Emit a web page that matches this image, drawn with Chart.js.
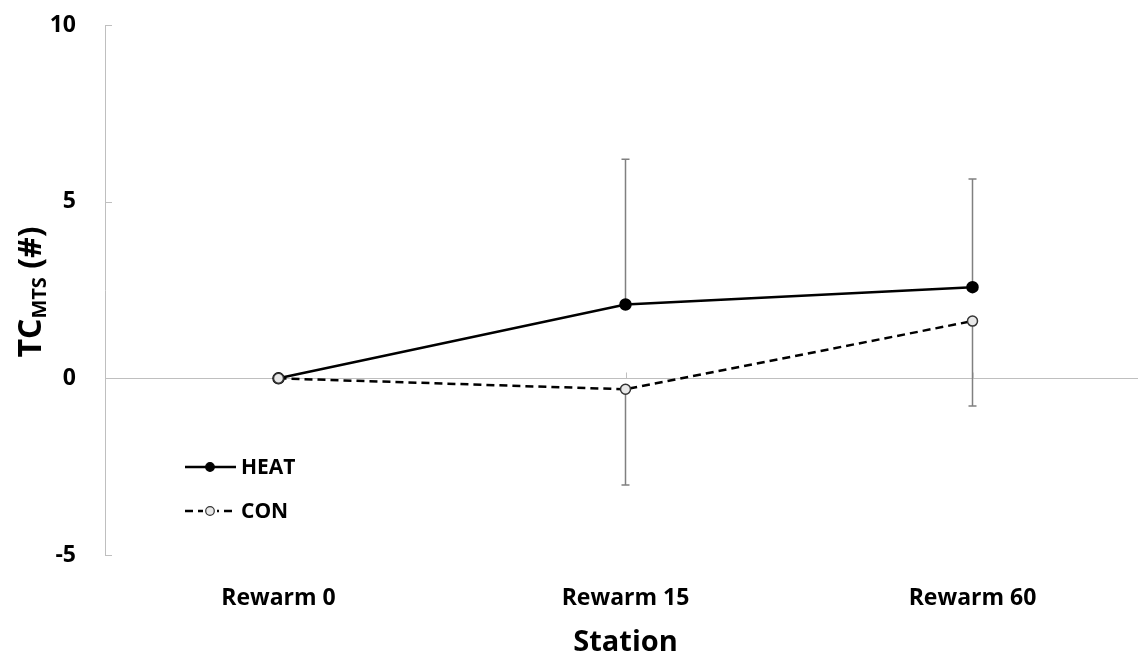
<!DOCTYPE html>
<html>
<head>
<meta charset="utf-8">
<title>TC MTS by station</title>
<script src="https://cdn.jsdelivr.net/npm/chart.js@4"></script>
<style>
    html, body { margin: 0; padding: 0; background: #fff; overflow: hidden; }
    #wrap { width: 1146px; height: 660px; }
</style>
</head>
<body>
<div id="wrap"><canvas id="chart"></canvas></div>
<script>
// ================================
// Data
// ================================
const stations = ['Rewarm 0', 'Rewarm 15', 'Rewarm 60'];
const heatValues = [0, 2.09, 2.58];
const heatErrUp = [0, 4.11, 3.06];
const conValues = [0, -0.31, 1.62];
const conErrDown = [0, 2.71, 2.40];
const yTicks = [-5, 0, 5, 10];

const FONT = '"Open Sans", sans-serif';

// Error bars (HEAT upward, CON downward)
const errorBars = {
    id: 'errorBars',
    beforeDatasetsDraw(chart) {
        const ctx = chart.ctx;
        const x = chart.scales.x, y = chart.scales.y;
        ctx.save();
        ctx.strokeStyle = '#808080';
        ctx.lineWidth = 1.5;
        const bars = [
            { vals: heatValues, err: heatErrUp, dir: 1 },
            { vals: conValues, err: conErrDown, dir: -1 }
        ];
        bars.forEach(b => {
            b.vals.forEach((v, i) => {
                if (!b.err[i]) return;
                const px = x.getPixelForValue(i);
                const y0 = y.getPixelForValue(v);
                const y1 = y.getPixelForValue(v + b.dir * b.err[i]);
                ctx.beginPath();
                ctx.moveTo(px, y0);
                ctx.lineTo(px, y1);
                ctx.moveTo(px - 4, y1);
                ctx.lineTo(px + 4, y1);
                ctx.stroke();
            });
        });
        ctx.restore();
    }
};

// Axis tick marks, y title with subscript, legend
const extras = {
    id: 'extras',
    beforeDatasetsDraw(chart) {
        const ctx = chart.ctx;
        const x = chart.scales.x, y = chart.scales.y;
        const left = chart.chartArea.left;
        ctx.save();
        ctx.strokeStyle = '#bfbfbf';
        ctx.lineWidth = 1;
        yTicks.forEach(t => {
            const py = Math.round(y.getPixelForValue(t)) + 0.5;
            ctx.beginPath();
            ctx.moveTo(left, py);
            ctx.lineTo(left + 7, py);
            ctx.stroke();
        });
        const zy = Math.round(y.getPixelForValue(0)) + 0.5;
        stations.forEach((s, i) => {
            const px = Math.round(x.getPixelForValue(i)) + 0.5;
            ctx.beginPath();
            ctx.moveTo(px, zy);
            ctx.lineTo(px, zy - 6);
            ctx.stroke();
        });
        ctx.restore();
    },
    afterDraw(chart) {
        const ctx = chart.ctx;
        ctx.save();
        // y axis title: TC_MTS (#)
        ctx.translate(41, 292);
        ctx.rotate(-Math.PI / 2);
        ctx.fillStyle = '#000';
        ctx.textBaseline = 'alphabetic';
        const big = 'bold 32px ' + FONT, small = 'bold 20px ' + FONT;
        ctx.font = big;
        const w1 = ctx.measureText('TC').width;
        const w3 = ctx.measureText(' (#)').width;
        ctx.font = small;
        const w2 = ctx.measureText('MTS').width;
        const sx = -(w1 + w2 + w3) / 2;
        ctx.font = big;
        ctx.fillText('TC', sx, 0);
        ctx.font = small;
        ctx.fillText('MTS', sx + w1, 5);
        ctx.font = big;
        ctx.fillText(' (#)', sx + w1 + w2, 0);
        ctx.restore();

        // legend
        ctx.save();
        chart.data.datasets.forEach((ds, i) => {
            const ly = 467 + i * 44;
            ctx.strokeStyle = ds.borderColor;
            ctx.lineWidth = 2.5;
            ctx.setLineDash(ds.borderDash || []);
            ctx.beginPath();
            ctx.moveTo(185, ly);
            ctx.lineTo(236, ly);
            ctx.stroke();
            ctx.setLineDash([]);
            if (ds.borderDash) {
                ctx.fillStyle = '#fff';
                ctx.fillRect(203, ly - 5, 14, 10);
            }
            ctx.beginPath();
            ctx.arc(210, ly, 4.3, 0, Math.PI * 2);
            ctx.fillStyle = ds.pointBackgroundColor;
            ctx.fill();
            ctx.lineWidth = 1.2;
            ctx.strokeStyle = ds.pointBorderColor;
            ctx.stroke();
            ctx.fillStyle = '#000';
            ctx.font = 'bold 21px ' + FONT;
            ctx.textBaseline = 'middle';
            ctx.fillText(ds.label, 241, ly + 1);
        });
        ctx.restore();
    }
};

const ctx = document.getElementById('chart').getContext('2d');
new Chart(ctx, {
    type: 'line',
    data: {
        labels: stations,
        datasets: [
            {
                label: 'HEAT',
                data: heatValues,
                order: 2,
                borderColor: '#000000',
                borderWidth: 2.5,
                pointBackgroundColor: '#000000',
                pointBorderColor: '#000000',
                pointRadius: 5,
                tension: 0
            },
            {
                label: 'CON',
                data: conValues,
                order: 1,
                borderColor: '#000000',
                borderWidth: 2.5,
                borderDash: [8, 5],
                pointBackgroundColor: '#e8e8e8',
                pointBorderColor: '#333333',
                pointBorderWidth: 1.5,
                pointRadius: 5,
                tension: 0
            }
        ]
    },
    options: {
        responsive: true,
        maintainAspectRatio: false,
        animation: false,
        layout: { padding: { top: 25, right: 0, bottom: 0, left: 0 }, autoPadding: false },
        plugins: {
            legend: { display: false },
            tooltip: { enabled: false }
        },
        scales: {
            x: {
                offset: true,
                afterFit(scale) {
                    scale.height = 105;
                    scale.paddingLeft = 0;
                    scale.paddingRight = 0;
                },
                grid: { display: false },
                border: { display: false },
                ticks: {
                    color: '#000',
                    padding: 22,
                    maxRotation: 0,
                    font: { family: FONT, size: 23, weight: 'bold' }
                },
                title: {
                    display: true,
                    text: 'Station',
                    color: '#000',
                    padding: { top: 12, bottom: 0 },
                    font: { family: FONT, size: 29, weight: 'bold' }
                }
            },
            y: {
                min: -5,
                max: 10,
                afterFit(scale) {
                    scale.width = 105;
                    scale.paddingTop = 0;
                    scale.paddingBottom = 0;
                },
                afterBuildTicks(scale) { scale.ticks = yTicks.map(v => ({ value: v })); },
                grid: {
                    drawTicks: false,
                    color: c => (c.tick && c.tick.value === 0 ? '#bfbfbf' : 'rgba(0,0,0,0)')
                },
                border: { display: true, color: '#bfbfbf' },
                ticks: {
                    color: '#000',
                    padding: 29,
                    font: { family: FONT, size: 23, weight: 'bold' }
                }
            }
        }
    },
    plugins: [errorBars, extras]
});
</script>
</body>
</html>
